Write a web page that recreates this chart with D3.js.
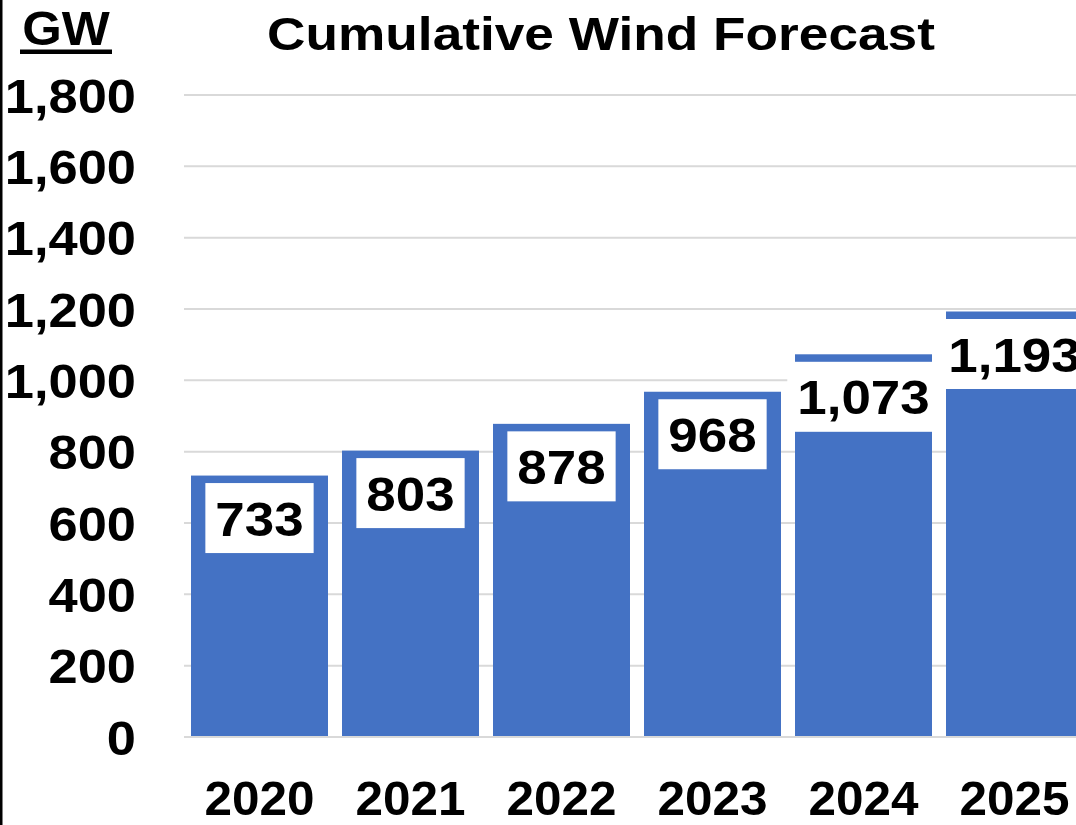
<!DOCTYPE html>
<html>
<head>
<meta charset="utf-8">
<script src="https://cdn.jsdelivr.net/npm/d3@7"></script>
<style>
  html, body { margin: 0; padding: 0; background: #fff; }
  svg { display: block; }
  text { font-family: Arial, "Liberation Sans", sans-serif; font-weight: bold; fill: #000; }
</style>
</head>
<body>
<svg id="chart" width="1076" height="825"></svg>
<script>
const categories = ["2020", "2021", "2022", "2023", "2024", "2025"];
const values = [733, 803, 878, 968, 1073, 1193];
const yTicks = [0, 200, 400, 600, 800, 1000, 1200, 1400, 1600, 1800];
const title = "Cumulative Wind Forecast";
const unitLabel = "GW";

const W = 1076, H = 825;
const svg = d3.select("#chart");

const x = d3.scaleBand()
  .domain(categories)
  .range([184, 1090])
  .paddingInner(14 / 151)
  .paddingOuter(7 / 151);

const y = d3.scaleLinear().domain([0, 1800]).range([737, 95]);
const fmt = d3.format(",");

function stretchedText(parent, px, py, sx, size, anchor, str, dy) {
  const t = parent.append("text")
    .attr("transform", `translate(${px},${py}) scale(${sx},1)`)
    .attr("text-anchor", anchor)
    .style("font-size", size + "px")
    .text(str);
  if (dy) t.attr("dy", dy);
  return t;
}

// left border line
svg.append("rect").attr("x", 0).attr("y", 0).attr("width", 2.5).attr("height", H).attr("fill", "#000");

// gridlines
svg.append("g").selectAll("line").data(yTicks.filter(d => d > 0)).join("line")
  .attr("x1", 184).attr("x2", W)
  .attr("y1", d => y(d)).attr("y2", d => y(d))
  .attr("stroke", "#d9d9d9").attr("stroke-width", 2);

// bars
svg.append("g").selectAll("rect").data(values).join("rect")
  .attr("x", (d, i) => x(categories[i]))
  .attr("y", d => y(d))
  .attr("width", x.bandwidth())
  .attr("height", d => y(0) - y(d))
  .attr("fill", "#4472C4");

// baseline
svg.append("line").attr("x1", 184).attr("x2", W)
  .attr("y1", y(0)).attr("y2", y(0))
  .attr("stroke", "#d9d9d9").attr("stroke-width", 2);

// y tick labels
const yg = svg.append("g");
yTicks.forEach(d => stretchedText(yg, 136, y(d), 1.07, 49, "end", fmt(d), "0.36em"));

// x labels
const xg = svg.append("g");
categories.forEach(c => stretchedText(xg, x(c) + x.bandwidth() / 2, 815, 1.03, 48, "middle", c));

// value labels with white boxes
const lg = svg.append("g");
values.forEach((v, i) => {
  const cx = x(categories[i]) + x.bandwidth() / 2;
  const top = y(v) + 7.5;
  const g = lg.append("g");
  const rect = g.append("rect").attr("fill", "#fff");
  const sx = 1.08;
  const t = stretchedText(g, cx, top + 35, sx, 49, "middle", fmt(v), "0.36em");
  const w = t.node().getBBox().width * sx;
  rect.attr("x", cx - w / 2 - 10).attr("y", top)
    .attr("width", w + 20).attr("height", 70);
});

// title
stretchedText(svg, 601, 50, 1.17, 45.5, "middle", title);

// unit label with underline
stretchedText(svg, 66, 45, 1.06, 48, "middle", unitLabel);
svg.append("rect").attr("x", 20).attr("y", 49.5).attr("width", 92).attr("height", 4.5).attr("fill", "#000");
</script>
</body>
</html>
